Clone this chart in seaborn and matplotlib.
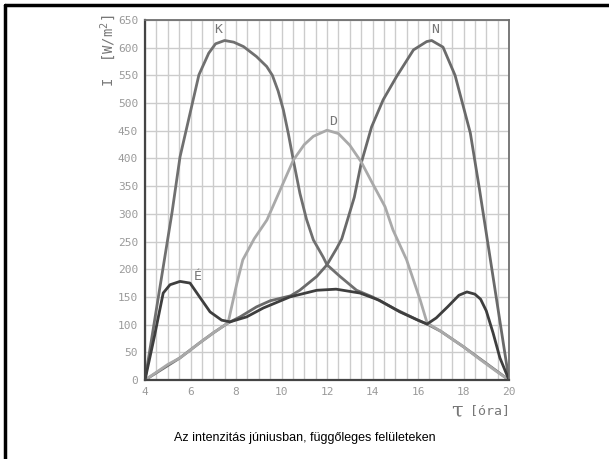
"""
Napsugárzás intenzitása júniusban, függőleges felületeken (K, D, N, É)
"""

import numpy as np
import pandas as pd
import matplotlib
matplotlib.use("Agg")
import matplotlib.pyplot as plt
from matplotlib.ticker import MultipleLocator
from matplotlib.lines import Line2D
import seaborn as sns

sns.set_style("white")

# ---------------------------------------------------------------------------
# Data
# ---------------------------------------------------------------------------
K_T = [4, 4.6, 5.19, 5.54, 6.0, 6.37, 6.8, 7.1, 7.5, 7.9, 8.33, 8.9, 9.35, 9.6,
       9.85, 10.08, 10.3, 10.52, 10.81, 11.1, 11.4, 11.83, 12.0, 12.57, 13.3,
       14.0, 15.0, 16.0, 16.4, 17.0, 18.0, 19.0, 20]
K_V = [0, 153, 303, 403, 485, 551, 590, 607, 613, 610, 602, 584, 566, 550,
       522, 488, 445, 397, 337, 290, 253, 222, 208, 187, 162,
       150, 128, 108, 101, 88, 60, 30, 0]

D_T = [4, 5.0, 5.54, 6.4, 7.0, 7.65, 8.04, 8.3, 8.8, 9.36, 9.8, 10.52, 11.0,
       11.4, 12.0, 12.5, 13.0, 13.5, 14.0, 14.55, 14.9, 15.5, 16.1, 16.4,
       17.0, 18.0, 18.7, 19.5, 20]
D_V = [0, 28, 40, 67, 85, 103, 175, 217, 255, 289, 330, 397, 425,
       440, 451, 445, 424, 394, 355, 313, 271, 217, 144, 103,
       88, 60, 38, 14, 0]

N_T = [4, 5.54, 6.4, 7.0, 7.65, 8.18, 8.9, 9.5, 10.4, 10.8, 11.55, 12.0, 12.43,
       12.65, 12.9, 13.2, 13.5, 13.96, 14.47, 15.06, 15.8, 16.38, 16.6, 17.1,
       17.63, 18.3, 18.7, 19.3, 20]
N_V = [0, 40, 67, 85, 103, 114, 132, 143, 152, 162, 187, 208, 238,
       255, 289, 330, 391, 457, 506, 548, 596, 611, 613, 601,
       550, 446, 345, 186, 0]

E_T = [4, 4.41, 4.8, 5.1, 5.54, 5.98, 6.4, 6.86, 7.37, 7.74, 8.47, 9.2, 10.37,
       11.55, 12.4, 13.45, 14.3, 15.2, 16.0, 16.4, 16.8, 17.3, 17.8, 18.15,
       18.5, 18.75, 19.0, 19.3, 19.6, 20]
E_V = [0, 78, 157, 172, 178, 175, 150, 123, 108, 105, 114, 130, 150,
       162, 164, 157, 144, 123, 108, 101, 112, 132, 153, 159,
       155, 146, 125, 85, 40, 0]

SERIES = {"É": (E_T, E_V), "D": (D_T, D_V), "K": (K_T, K_V), "N": (N_T, N_V)}
COLORS = {"K": "#707070", "N": "#6a6a6a", "D": "#a9a9a9", "É": "#3e3e3e"}
LABEL_POS = {"K": (7.2, 632), "D": (12.27, 466), "N": (16.75, 632), "É": (6.3, 186)}

Y_TICKS = list(range(0, 651, 50))
X_TICKS = [4, 6, 8, 10, 12, 14, 16, 18, 20]

rows = []
for name, (t, v) in SERIES.items():
    for ti, vi in zip(t, v):
        rows.append({"series": name, "ora": ti, "I": vi})
df = pd.DataFrame(rows)

# ---------------------------------------------------------------------------
# Plot
# ---------------------------------------------------------------------------
fig = plt.figure(figsize=(6.09, 4.59), dpi=100)
ax = fig.add_axes([145 / 609, 1 - 380 / 459, 364 / 609, 360 / 459])

# D drawn after K/N so the shared low branches look light grey
for name in ["K", "N", "D", "É"]:
    sub = df[df["series"] == name]
    sns.lineplot(data=sub, x="ora", y="I", ax=ax, color=COLORS[name],
                 lw=2.0, sort=False, estimator=None, legend=False)
    lx, ly = LABEL_POS[name]
    ax.text(lx, ly, name, color="#777777", fontsize=9.5, ha="center", va="center",
            family="DejaVu Sans Mono")

ax.set_xlim(4, 20)
ax.set_ylim(0, 650)
ax.set_xticks(X_TICKS)
ax.xaxis.set_minor_locator(MultipleLocator(0.5))
ax.set_yticks(Y_TICKS)
ax.grid(which="both", axis="x", color="#cccccc", lw=1)
ax.grid(which="major", axis="y", color="#cccccc", lw=1)
ax.set_axisbelow(True)
ax.tick_params(which="both", length=0, labelsize=8, labelcolor="#9a9a9a", pad=5)
for lab in ax.get_xticklabels() + ax.get_yticklabels():
    lab.set_family("DejaVu Sans Mono")
ax.set_xlabel("")
ax.set_ylabel("")

for side in ["left", "bottom"]:
    ax.spines[side].set_color("#444444")
    ax.spines[side].set_linewidth(1.6)
for side in ["top", "right"]:
    ax.spines[side].set_color("#6f6f6f")
    ax.spines[side].set_linewidth(1.3)

# axis titles
fig.text(108 / 609, 1 - 14 / 459, "I  [W/m$^2$]", rotation=90, ha="center", va="top",
         fontsize=10, color="#777777", family="DejaVu Sans Mono")
fig.text(457 / 609, 1 - 411 / 459, "τ", ha="center", va="center",
         fontsize=15, color="#777777", family="DejaVu Serif")
fig.text(470 / 609, 1 - 411 / 459, "[óra]", ha="left", va="center",
         fontsize=9.5, color="#777777", family="DejaVu Sans Mono")

# caption
fig.text(305 / 609, 1 - 438 / 459, "Az intenzitás júniusban, függőleges felületeken",
         ha="center", va="center", fontsize=9, color="black", family="Liberation Sans")

# outer frame (left and top edges only visible)
fig.add_artist(Line2D([4.5 / 609, 4.5 / 609], [0, 1 - 4.5 / 459], transform=fig.transFigure,
                      color="black", lw=2.5))
fig.add_artist(Line2D([4.5 / 609, 1], [1 - 5 / 459, 1 - 5 / 459], transform=fig.transFigure,
                      color="black", lw=2.5))

fig.savefig("out.png", dpi=100)
plt.close()
